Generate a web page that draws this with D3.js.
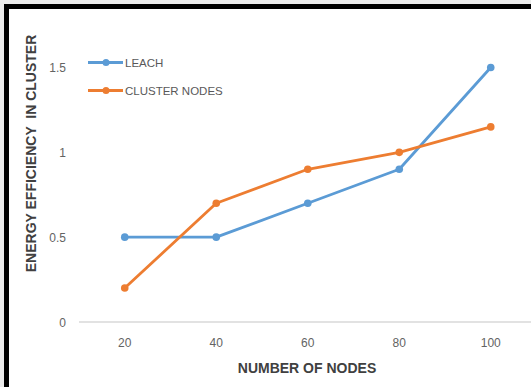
<!DOCTYPE html>
<html>
<head>
<meta charset="utf-8">
<script src="https://cdn.jsdelivr.net/npm/d3@7"></script>
<style>
  html, body { margin: 0; padding: 0; background: #ececec; }
  svg { display: block; }
</style>
</head>
<body>
<svg id="chart" width="531" height="387"></svg>
<script>
// Node counts on the category axis
const nodeCounts = ["20", "40", "60", "80", "100"];
// Energy efficiency per series
const leachValues = [0.5, 0.5, 0.7, 0.9, 1.5];
const clusterValues = [0.2, 0.7, 0.9, 1.0, 1.15];
const seriesNames = ["LEACH", "CLUSTER NODES"];
const yTickValues = [0, 0.5, 1, 1.5];

const colors = ["#5B9BD5", "#ED7D31"];
const series = [leachValues, clusterValues];

const svg = d3.select("#chart");
const W = 531, H = 387;

// Framed white panel
svg.append("rect").attr("x", 4).attr("y", 4).attr("width", W).attr("height", H)
  .attr("fill", "#fff");
svg.append("path")
  .attr("d", `M6.5,${H + 5} L6.5,6.5 L${W + 5},6.5`)
  .attr("fill", "none").attr("stroke", "#000").attr("stroke-width", 5);

const plot = { left: 79, right: 536.5, top: 67, bottom: 322 };

const x = d3.scaleBand().domain(nodeCounts).range([plot.left, plot.right]);
const y = d3.scaleLinear().domain([0, 1.5]).range([plot.bottom, 67.5]);

const font = "'Liberation Sans', Arial, sans-serif";

// Baseline
svg.append("line")
  .attr("x1", plot.left).attr("x2", W)
  .attr("y1", y(0)).attr("y2", y(0))
  .attr("stroke", "#d9d9d9").attr("stroke-width", 1.3);

// Y axis labels
const yAxis = d3.axisLeft(y).tickValues(yTickValues).tickSize(0).tickPadding(0)
  .tickFormat(d => d3.format("~g")(d));
const yg = svg.append("g").attr("transform", `translate(66,0)`).call(yAxis);
yg.select(".domain").remove();
yg.selectAll("text").attr("fill", "#636363").attr("font-size", "12px")
  .attr("font-family", font).attr("dy", "0.35em");

// X axis labels
const xAxis = d3.axisBottom(x).tickSize(0).tickPadding(0);
const xg = svg.append("g").attr("transform", `translate(0,337)`).call(xAxis);
xg.select(".domain").remove();
xg.selectAll("text").attr("fill", "#636363").attr("font-size", "12px")
  .attr("font-family", font).attr("dy", "0.35em").attr("y", 6);

// Axis titles
svg.append("text")
  .attr("x", 307).attr("y", 368).attr("dy", "0.35em")
  .attr("text-anchor", "middle")
  .attr("font-family", font).attr("font-size", "14px").attr("font-weight", "bold")
  .attr("fill", "#404040")
  .text("NUMBER OF NODES");

svg.append("text")
  .attr("transform", "translate(31,153.5) rotate(-90)")
  .attr("dy", "0.35em")
  .attr("text-anchor", "middle")
  .attr("font-family", font).attr("font-size", "14px").attr("font-weight", "bold")
  .attr("fill", "#404040")
  .style("white-space", "pre")
  .text("ENERGY EFFICIENCY  IN CLUSTER");

// Series lines and markers
const line = d3.line()
  .x((d, i) => x(nodeCounts[i]) + x.bandwidth() / 2)
  .y(d => y(d));

series.forEach((vals, s) => {
  svg.append("path")
    .datum(vals)
    .attr("d", line)
    .attr("fill", "none")
    .attr("stroke", colors[s])
    .attr("stroke-width", 2.8)
    .attr("stroke-linejoin", "round");
  svg.selectAll(null).data(vals).enter().append("circle")
    .attr("cx", (d, i) => x(nodeCounts[i]) + x.bandwidth() / 2)
    .attr("cy", d => y(d))
    .attr("r", 3.8)
    .attr("fill", colors[s]);
});

// Legend
const legend = svg.append("g");
seriesNames.forEach((name, s) => {
  const ly = 62.5 + s * 28;
  legend.append("line").attr("x1", 88).attr("x2", 123).attr("y1", ly).attr("y2", ly)
    .attr("stroke", colors[s]).attr("stroke-width", 2.8);
  legend.append("circle").attr("cx", 106).attr("cy", ly).attr("r", 3.5).attr("fill", colors[s]);
  legend.append("text").attr("x", 125).attr("y", ly).attr("dy", "0.35em")
    .attr("font-family", font).attr("font-size", "11.5px").attr("fill", "#595959")
    .text(name);
});
</script>
</body>
</html>
